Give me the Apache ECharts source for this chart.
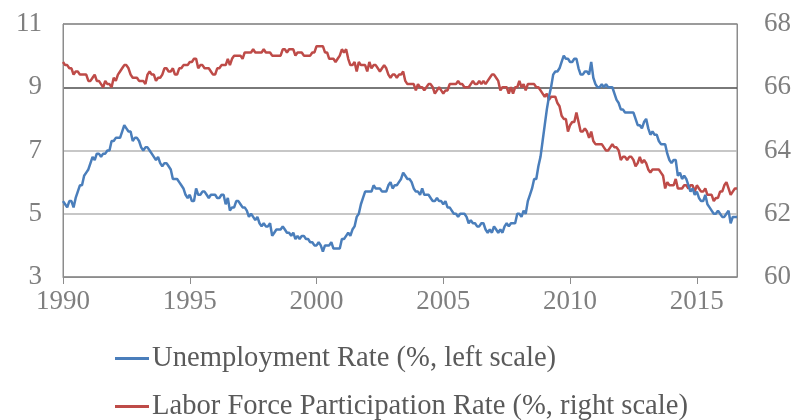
<!DOCTYPE html>
<html>
<head>
<meta charset="utf-8">
<script src="https://cdn.jsdelivr.net/npm/echarts@6/dist/echarts.min.js"></script>
<style>
  html, body { margin: 0; padding: 0; background: #ffffff; }
  #chart { width: 794px; height: 420px; }
</style>
</head>
<body>
<div id="chart"></div>
<script>
// Monthly series, January 1990 through August 2016
const startYear = 1990;

const unemployment = [
  5.4, 5.3, 5.2, 5.4, 5.4, 5.2, 5.5, 5.7, 5.9, 5.9, 6.2, 6.3, // 1990
  6.4, 6.6, 6.8, 6.7, 6.9, 6.9, 6.8, 6.9, 6.9, 7.0, 7.0, 7.3, // 1991
  7.3, 7.4, 7.4, 7.4, 7.6, 7.8, 7.7, 7.6, 7.6, 7.3, 7.4, 7.4, // 1992
  7.3, 7.1, 7.0, 7.1, 7.1, 7.0, 6.9, 6.8, 6.7, 6.8, 6.6, 6.5, // 1993
  6.6, 6.6, 6.5, 6.4, 6.1, 6.1, 6.1, 6.0, 5.9, 5.8, 5.6, 5.5, // 1994
  5.6, 5.4, 5.4, 5.8, 5.6, 5.6, 5.7, 5.7, 5.6, 5.5, 5.6, 5.6, // 1995
  5.6, 5.5, 5.5, 5.6, 5.6, 5.3, 5.5, 5.1, 5.2, 5.2, 5.4, 5.4, // 1996
  5.3, 5.2, 5.2, 5.1, 4.9, 5.0, 4.9, 4.8, 4.9, 4.7, 4.6, 4.7, // 1997
  4.6, 4.6, 4.7, 4.3, 4.4, 4.5, 4.5, 4.5, 4.6, 4.5, 4.4, 4.4, // 1998
  4.3, 4.4, 4.2, 4.3, 4.2, 4.3, 4.3, 4.2, 4.2, 4.1, 4.1, 4.0, // 1999
  4.0, 4.1, 4.0, 3.8, 4.0, 4.0, 4.0, 4.1, 3.9, 3.9, 3.9, 3.9, // 2000
  4.2, 4.2, 4.3, 4.4, 4.3, 4.5, 4.6, 4.9, 5.0, 5.3, 5.5, 5.7, // 2001
  5.7, 5.7, 5.7, 5.9, 5.8, 5.8, 5.8, 5.7, 5.7, 5.7, 5.9, 6.0, // 2002
  5.8, 5.9, 5.9, 6.0, 6.1, 6.3, 6.2, 6.1, 6.1, 6.0, 5.8, 5.7, // 2003
  5.7, 5.6, 5.8, 5.6, 5.6, 5.6, 5.5, 5.4, 5.4, 5.5, 5.4, 5.4, // 2004
  5.3, 5.4, 5.2, 5.2, 5.1, 5.0, 5.0, 4.9, 5.0, 5.0, 5.0, 4.9, // 2005
  4.7, 4.8, 4.7, 4.7, 4.6, 4.6, 4.7, 4.7, 4.5, 4.4, 4.5, 4.4, // 2006
  4.6, 4.5, 4.4, 4.5, 4.4, 4.6, 4.7, 4.6, 4.7, 4.7, 4.7, 5.0, // 2007
  5.0, 4.9, 5.1, 5.0, 5.4, 5.6, 5.8, 6.1, 6.1, 6.5, 6.8, 7.3, // 2008
  7.8, 8.3, 8.7, 9.0, 9.4, 9.5, 9.5, 9.6, 9.8, 10.0, 9.9, 9.9, // 2009
  9.8, 9.8, 9.9, 9.9, 9.6, 9.4, 9.4, 9.5, 9.5, 9.4, 9.8, 9.3, // 2010
  9.1, 9.0, 9.0, 9.1, 9.0, 9.1, 9.0, 9.0, 9.0, 8.8, 8.6, 8.5, // 2011
  8.3, 8.3, 8.2, 8.2, 8.2, 8.2, 8.2, 8.0, 7.8, 7.8, 7.7, 7.9, // 2012
  8.0, 7.7, 7.5, 7.6, 7.5, 7.5, 7.3, 7.2, 7.2, 7.2, 6.9, 6.7, // 2013
  6.6, 6.7, 6.7, 6.2, 6.3, 6.1, 6.2, 6.1, 5.9, 5.7, 5.8, 5.6, // 2014
  5.7, 5.5, 5.4, 5.4, 5.6, 5.3, 5.2, 5.1, 5.0, 5.0, 5.1, 5.0, // 2015
  4.9, 4.9, 5.0, 5.1, 4.7, 4.9, 4.9, 4.9                      // 2016
];

const participation = [
  66.8, 66.7, 66.7, 66.6, 66.6, 66.4, 66.5, 66.5, 66.4, 66.4, 66.4, 66.4, // 1990
  66.2, 66.2, 66.3, 66.4, 66.2, 66.2, 66.1, 66.0, 66.2, 66.1, 66.1, 66.0, // 1991
  66.3, 66.2, 66.4, 66.5, 66.6, 66.7, 66.7, 66.6, 66.4, 66.3, 66.3, 66.3, // 1992
  66.2, 66.2, 66.2, 66.1, 66.4, 66.5, 66.4, 66.4, 66.2, 66.3, 66.3, 66.4, // 1993
  66.6, 66.6, 66.5, 66.5, 66.6, 66.4, 66.4, 66.6, 66.6, 66.7, 66.7, 66.7, // 1994
  66.8, 66.8, 66.9, 66.9, 66.6, 66.7, 66.7, 66.6, 66.6, 66.6, 66.5, 66.4, // 1995
  66.4, 66.6, 66.6, 66.7, 66.7, 66.7, 66.9, 66.7, 66.9, 67.0, 67.0, 67.0, // 1996
  67.0, 66.9, 67.1, 67.1, 67.1, 67.1, 67.2, 67.1, 67.1, 67.1, 67.1, 67.2, // 1997
  67.1, 67.1, 67.1, 67.0, 67.0, 67.0, 67.0, 67.0, 67.2, 67.2, 67.1, 67.2, // 1998
  67.2, 67.2, 67.0, 67.1, 67.1, 67.1, 67.0, 67.0, 67.0, 67.0, 67.1, 67.1, // 1999
  67.3, 67.3, 67.3, 67.3, 67.1, 67.1, 66.9, 66.9, 66.9, 66.8, 66.9, 67.0, // 2000
  67.2, 67.1, 67.2, 66.9, 66.7, 66.7, 66.8, 66.5, 66.8, 66.7, 66.7, 66.7, // 2001
  66.5, 66.8, 66.6, 66.7, 66.7, 66.6, 66.5, 66.6, 66.7, 66.6, 66.4, 66.3, // 2002
  66.4, 66.4, 66.3, 66.4, 66.4, 66.5, 66.2, 66.1, 66.1, 66.1, 66.1, 65.9, // 2003
  66.1, 66.0, 66.0, 65.9, 66.0, 66.1, 66.1, 66.0, 65.8, 65.9, 66.0, 65.9, // 2004
  65.8, 65.9, 65.9, 66.1, 66.1, 66.1, 66.1, 66.2, 66.1, 66.1, 66.0, 66.0, // 2005
  66.0, 66.1, 66.2, 66.1, 66.1, 66.2, 66.1, 66.2, 66.1, 66.2, 66.3, 66.4, // 2006
  66.4, 66.3, 66.2, 65.9, 66.0, 66.0, 66.0, 65.8, 66.0, 65.8, 66.0, 66.0, // 2007
  66.2, 66.0, 66.1, 65.9, 66.1, 66.1, 66.1, 66.1, 66.0, 66.0, 65.9, 65.8, // 2008
  65.7, 65.8, 65.6, 65.7, 65.7, 65.7, 65.5, 65.4, 65.1, 65.0, 65.0, 64.6, // 2009
  64.8, 64.9, 64.9, 65.2, 64.9, 64.6, 64.6, 64.7, 64.6, 64.4, 64.6, 64.3, // 2010
  64.2, 64.2, 64.2, 64.2, 64.1, 64.0, 64.0, 64.1, 64.2, 64.1, 64.1, 64.0, // 2011
  63.7, 63.8, 63.8, 63.7, 63.8, 63.8, 63.7, 63.5, 63.6, 63.8, 63.6, 63.7, // 2012
  63.6, 63.4, 63.3, 63.4, 63.4, 63.4, 63.4, 63.3, 63.2, 62.8, 63.0, 62.9, // 2013
  62.9, 62.9, 63.1, 62.8, 62.8, 62.8, 62.9, 62.9, 62.8, 62.9, 62.9, 62.7, // 2014
  62.9, 62.8, 62.7, 62.7, 62.8, 62.6, 62.6, 62.6, 62.4, 62.5, 62.5, 62.7, // 2015
  62.7, 62.9, 63.0, 62.8, 62.6, 62.7, 62.8, 62.8                          // 2016
];

const yearTicks = [1990, 1995, 2000, 2005, 2010, 2015];
const leftTicks = [3, 5, 7, 9, 11];
const rightTicks = [60, 62, 64, 66, 68];
const seriesNames = [
  'Unemployment Rate (%, left scale)',
  'Labor Force Participation Rate (%, right scale)'
];
const seriesColors = ['#4a7ebb', '#be4b48'];

const toPoints = (vals) => vals.map((v, i) => [startYear + i / 12, v]);
const lastX = startYear + (unemployment.length - 1) / 12;

const serif = 'Liberation Serif';
const tickColor = '#7f7f7f';

// one legend block per series, stacked
const legendBlock = (name, top) => ({
  orient: 'horizontal',
  left: 110,
  top: top,
  itemWidth: 34,
  itemHeight: 3,
  icon: 'rect',
  itemStyle: { borderWidth: 0 },
  textStyle: { fontFamily: serif, fontSize: 28.6, color: '#5a5a5a', padding: [0, 0, 0, -2] },
  data: [{ name: name }]
});

const chart = echarts.init(document.getElementById('chart'), null, { renderer: 'canvas' });

chart.setOption({
  animation: false,
  backgroundColor: '#ffffff',
  grid: {
    left: 63, right: 56, top: 24, bottom: 143,
    show: true, borderColor: '#8c8c8c', borderWidth: 1,
    containLabel: false
  },
  legend: [legendBlock(seriesNames[0], 339), legendBlock(seriesNames[1], 387)],
  xAxis: {
    type: 'value',
    min: startYear,
    max: lastX,
    interval: 5,
    axisLine: { show: true, lineStyle: { color: '#8c8c8c', width: 1 } },
    axisTick: { show: true, length: 7, lineStyle: { color: '#8c8c8c' }, customValues: yearTicks },
    axisLabel: {
      fontFamily: serif, fontSize: 27, color: tickColor, margin: 11,
      customValues: yearTicks,
      formatter: (v) => String(Math.round(v))
    },
    splitLine: { show: false }
  },
  yAxis: [
    {
      type: 'value',
      min: 3, max: 11, interval: 2,
      axisLine: { show: true, lineStyle: { color: '#8c8c8c' } },
      axisTick: { show: false },
      axisLabel: { fontFamily: serif, fontSize: 27, color: tickColor, margin: 21,
        customValues: leftTicks },
      splitLine: {
        show: true,
        lineStyle: { color: ['#8c8c8c', '#b4b4b4', '#b4b4b4', '#4d4d4d', '#8c8c8c'], width: 1.5 }
      }
    },
    {
      type: 'value',
      min: 60, max: 68, interval: 2,
      position: 'right',
      axisLine: { show: true, lineStyle: { color: '#8c8c8c' } },
      axisTick: { show: false },
      axisLabel: { fontFamily: serif, fontSize: 27, color: tickColor, margin: 27,
        customValues: rightTicks },
      splitLine: { show: false }
    }
  ],
  series: [
    {
      name: seriesNames[0],
      type: 'line',
      yAxisIndex: 0,
      data: toPoints(unemployment),
      symbol: 'none',
      color: seriesColors[0],
      lineStyle: { color: seriesColors[0], width: 2.5 },
      z: 3
    },
    {
      name: seriesNames[1],
      type: 'line',
      yAxisIndex: 1,
      data: toPoints(participation),
      symbol: 'none',
      color: seriesColors[1],
      lineStyle: { color: seriesColors[1], width: 2.5 },
      z: 2
    }
  ]
});
</script>
</body>
</html>
